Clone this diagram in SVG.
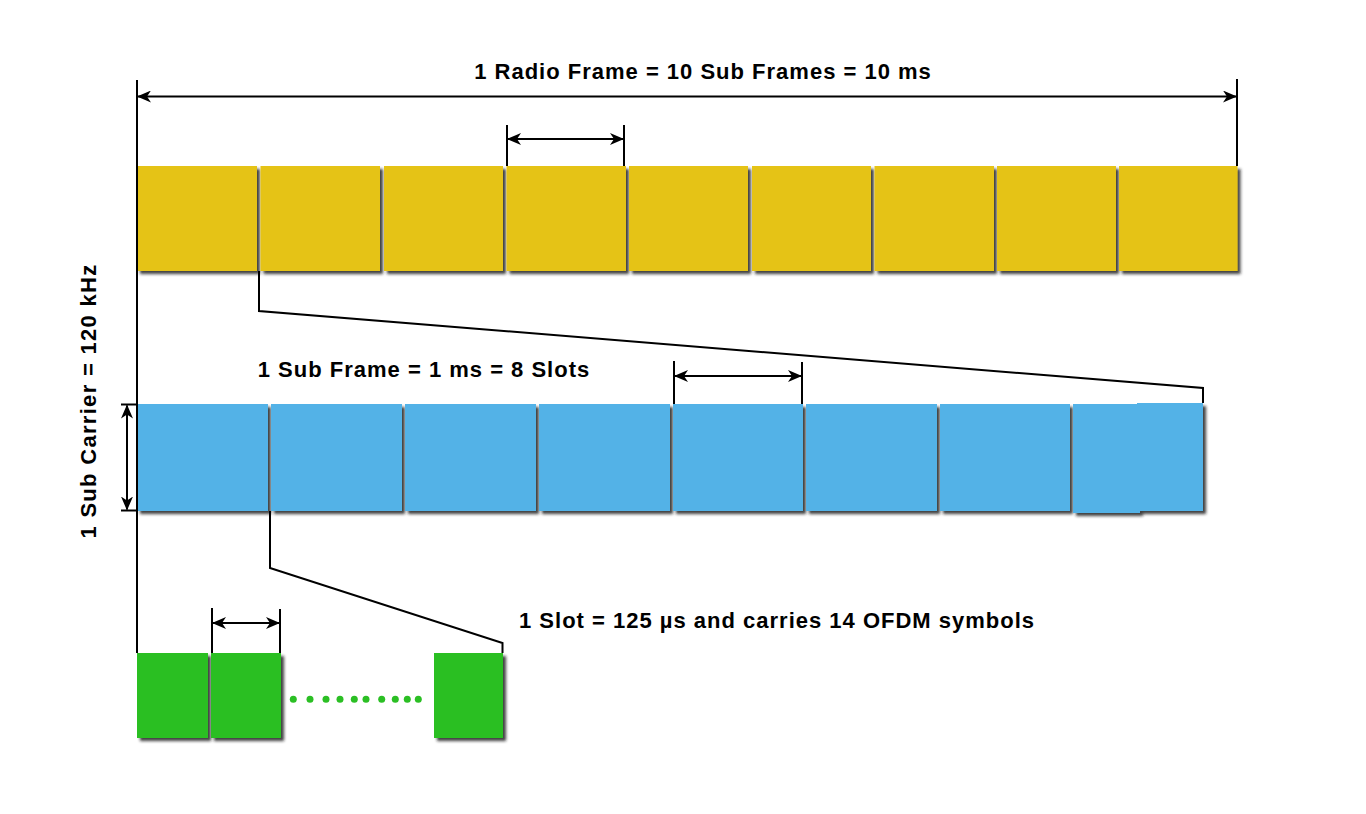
<svg xmlns="http://www.w3.org/2000/svg" width="1366" height="814" viewBox="0 0 1366 814">
<style>
.y{fill:#E5C315}
.b{fill:#52B2E7}
.g{fill:#2BBF24}
.ln{stroke:#000;stroke-width:2;fill:none}
.t{font-family:"Liberation Sans",Arial,sans-serif;font-weight:bold;font-size:22px;letter-spacing:1px;fill:#000}
</style>
<defs>
<filter id="sh" x="-10%" y="-10%" width="130%" height="130%">
<feDropShadow dx="3" dy="3" stdDeviation="1.5" flood-color="#222" flood-opacity="0.85"/>
</filter>
<marker id="ah" viewBox="0 0 14 12" refX="13" refY="6" markerWidth="14" markerHeight="12" markerUnits="userSpaceOnUse" orient="auto-start-reverse">
<path d="M0,0 L14,6 L0,12 L4,6 Z" fill="#000"/>
</marker>
</defs>
<rect width="1366" height="814" fill="#fff"/>

<g id="yellow-row" filter="url(#sh)">
<rect class="y" x="137" y="166" width="120" height="105"/>
<rect class="y" x="260.5" y="166" width="119.5" height="105"/>
<rect class="y" x="384" y="166" width="119" height="105"/>
<rect class="y" x="506.5" y="166" width="119.5" height="105"/>
<rect class="y" x="629" y="166" width="119" height="105"/>
<rect class="y" x="752" y="166" width="119" height="105"/>
<rect class="y" x="874.5" y="166" width="119.5" height="105"/>
<rect class="y" x="997" y="166" width="119" height="105"/>
<rect class="y" x="1119" y="166" width="118.5" height="105"/>
</g>

<g id="blue-row" filter="url(#sh)">
<rect class="b" x="137" y="404" width="131" height="107"/>
<rect class="b" x="271" y="404" width="131" height="107"/>
<rect class="b" x="405" y="404" width="131" height="107"/>
<rect class="b" x="539" y="404" width="131" height="107"/>
<rect class="b" x="673" y="404" width="130" height="107"/>
<rect class="b" x="806" y="404" width="131" height="107"/>
<rect class="b" x="940" y="404" width="130" height="107"/>
<rect class="b" x="1073" y="404" width="67" height="109"/>
<rect class="b" x="1137" y="403" width="66" height="108"/>
</g>

<g id="green-row" filter="url(#sh)">
<rect class="g" x="137" y="653" width="71" height="85"/>
<rect class="g" x="211" y="653" width="70" height="85"/>
<rect class="g" x="434" y="653" width="69" height="85"/>
</g>

<g id="dots" fill="#2BBF24">
<circle cx="293.3" cy="699.3" r="3.5"/>
<circle cx="310" cy="699.3" r="3.5"/>
<circle cx="326" cy="699.3" r="3.5"/>
<circle cx="340" cy="699.3" r="3.5"/>
<circle cx="354.3" cy="699.3" r="3.5"/>
<circle cx="366" cy="699.3" r="3.5"/>
<circle cx="381.7" cy="699.3" r="3.5"/>
<circle cx="395.3" cy="699.3" r="3.5"/>
<circle cx="407.3" cy="699.3" r="3.5"/>
<circle cx="418.3" cy="699.3" r="3.5"/>
</g>

<g id="connectors">
<line class="ln" x1="137" y1="80" x2="137" y2="653"/>
<line class="ln" x1="1237" y1="79" x2="1237" y2="166"/>
<line class="ln" x1="138" y1="96.5" x2="1236" y2="96.5" marker-start="url(#ah)" marker-end="url(#ah)"/>

<line class="ln" x1="507" y1="125" x2="507" y2="166"/>
<line class="ln" x1="624" y1="125" x2="624" y2="166"/>
<line class="ln" x1="508" y1="139" x2="623" y2="139" marker-start="url(#ah)" marker-end="url(#ah)"/>

<polyline class="ln" points="259,271 259,311 1203,388 1203,403"/>

<line class="ln" x1="674" y1="361" x2="674" y2="404"/>
<line class="ln" x1="802" y1="362" x2="802" y2="404"/>
<line class="ln" x1="675" y1="376" x2="801" y2="376" marker-start="url(#ah)" marker-end="url(#ah)"/>

<line class="ln" x1="121" y1="404.5" x2="137" y2="404.5"/>
<line class="ln" x1="121" y1="510.5" x2="137" y2="510.5"/>
<line class="ln" x1="127" y1="405.5" x2="127" y2="509.5" marker-start="url(#ah)" marker-end="url(#ah)"/>

<polyline class="ln" points="270,511 270,568 502.5,643 502.5,653"/>

<line class="ln" x1="212" y1="608" x2="212" y2="653"/>
<line class="ln" x1="280" y1="609" x2="280" y2="653"/>
<line class="ln" x1="213" y1="623" x2="279" y2="623" marker-start="url(#ah)" marker-end="url(#ah)"/>
</g>

<g id="labels">
<text class="t" x="703" y="78.5" text-anchor="middle">1 Radio Frame = 10 Sub Frames = 10 ms</text>
<text class="t" x="424" y="376.5" text-anchor="middle">1 Sub Frame = 1 ms = 8 Slots</text>
<text class="t" x="519" y="628">1 Slot = 125 µs and carries 14 OFDM symbols</text>
<text class="t" transform="translate(96,401) rotate(-90)" text-anchor="middle" style="letter-spacing:1.3px">1 Sub Carrier = 120 kHz</text>
</g>
</svg>
